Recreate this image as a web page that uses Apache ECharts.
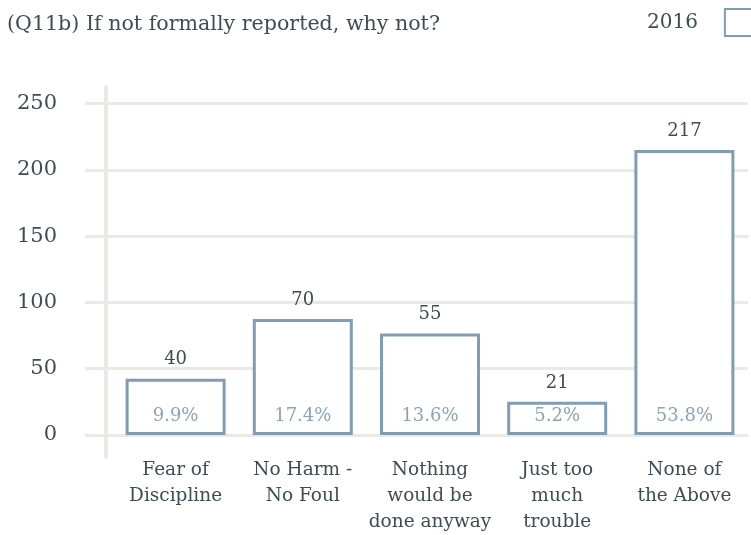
<!DOCTYPE html>
<html>
<head>
<meta charset="utf-8">
<script src="https://cdn.jsdelivr.net/npm/echarts@6/dist/echarts.min.js"></script>
<style>html,body{margin:0;padding:0;background:#fff}#c{width:751px;height:535px}</style>
</head>
<body>
<div id="c"></div>
<script>
const categories = ['Fear of\nDiscipline', 'No Harm -\nNo Foul', 'Nothing\nwould be\ndone anyway', 'Just too\nmuch\ntrouble', 'None of\nthe Above'];
const barHeights = [42.5, 87.5, 76.5, 25, 215];
const countLabels = ['40', '70', '55', '21', '217'];
const percentLabels = ['9.9%', '17.4%', '13.6%', '5.2%', '53.8%'];
const yTicks = [0, 50, 100, 150, 200, 250];

const FONT = 'DejaVu Serif';
const gridColor = '#ebe9e4';
const barColor = '#7f9db5';
const textColor = '#3e4d55';

const chart = echarts.init(document.getElementById('c'), null, {renderer: 'canvas'});
chart.setOption({
  animation: false,
  backgroundColor: '#fff',
  textStyle: {fontFamily: FONT},
  title: {
    text: '(Q11b) If not formally reported, why not?',
    left: 2, top: 9,
    textStyle: {fontFamily: FONT, fontSize: 20.6, fontWeight: 'normal', color: textColor}
  },
  legend: {
    data: ['2016'],
    left: 642, top: 3,
    align: 'right',
    icon: 'rect',
    itemWidth: 32, itemHeight: 27,
    textStyle: {fontFamily: FONT, fontSize: 20, color: textColor, padding: [0, 22, 0, 0]}
  },
  grid: [
    {left: 112, right: 3, top: 103.5, bottom: 98.3, containLabel: false},
    {left: 106, width: 10, top: 87, bottom: 78, containLabel: false}
  ],
  xAxis: [
    {
      type: 'category', gridIndex: 0, data: categories,
      axisLine: {show: false}, axisTick: {show: false},
      axisLabel: {fontFamily: FONT, fontSize: 18.5, lineHeight: 26, color: textColor, margin: 22, interval: 0}
    },
    {type: 'value', gridIndex: 1, min: 0, max: 1, show: false}
  ],
  yAxis: [
    {
      type: 'value', gridIndex: 0, min: yTicks[0], max: yTicks[yTicks.length - 1], interval: 50,
      axisLine: {show: false},
      axisTick: {show: true, length: 27, lineStyle: {color: gridColor, width: 3}},
      splitLine: {show: true, lineStyle: {color: gridColor, width: 3}},
      axisLabel: {fontFamily: FONT, fontSize: 21, color: textColor, margin: 55}
    },
    {
      type: 'value', gridIndex: 1, min: 0, max: 1,
      axisLine: {show: true, lineStyle: {color: gridColor, width: 4}},
      axisTick: {show: false}, axisLabel: {show: false}, splitLine: {show: false}
    }
  ],
  series: [
    {
      name: '2016', type: 'bar', xAxisIndex: 0, yAxisIndex: 0,
      data: barHeights, barWidth: 100,
      itemStyle: {color: '#ffffff', borderColor: barColor, borderWidth: 3},
      label: {
        show: true, position: 'top', distance: 10,
        fontFamily: FONT, fontSize: 18, color: textColor,
        formatter: p => countLabels[p.dataIndex]
      },
      z: 3
    },
    {
      name: 'pct', type: 'bar', xAxisIndex: 0, yAxisIndex: 0,
      data: barHeights, barWidth: 100, barGap: '-100%',
      itemStyle: {color: 'rgba(0,0,0,0)'},
      label: {
        show: true, position: 'insideBottom', distance: 10,
        fontFamily: FONT, fontSize: 18, color: '#89a3b9',
        formatter: p => percentLabels[p.dataIndex]
      },
      z: 4, silent: true
    }
  ]
});
</script>
</body>
</html>
